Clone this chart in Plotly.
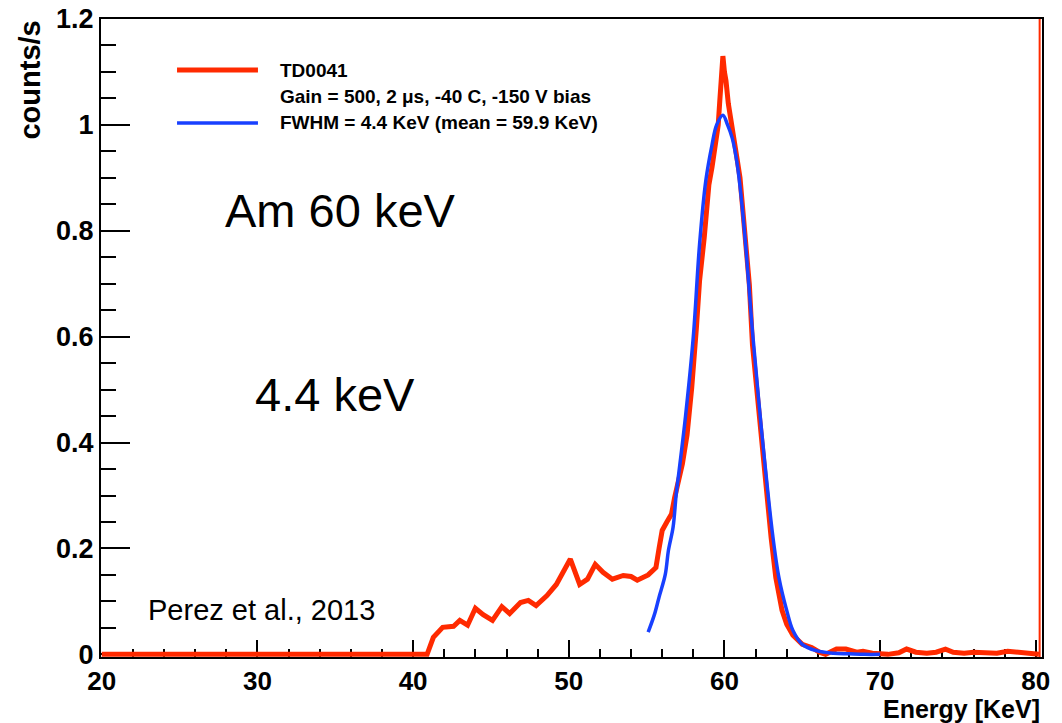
import plotly.graph_objects as go

# ---- data ----
red_energy = [20.0, 40.9, 41.3, 41.9, 42.6, 43.0, 43.5, 44.0, 44.5, 45.1, 45.7, 46.2, 46.9, 47.4,
              47.9, 48.6, 49.2, 49.7, 50.1, 50.7, 51.2, 51.7, 52.2, 52.8, 53.5, 54.0, 54.4, 55.1,
              55.6, 55.8, 56.0, 56.3, 56.6, 56.8, 57.1, 57.3, 57.6, 57.9, 58.2, 58.4, 58.7, 59.0,
              59.2, 59.4, 59.6, 59.7, 59.8, 59.9, 60.0, 60.1, 60.25, 60.45, 60.6, 60.8, 61.0, 61.2,
              61.4, 61.6, 61.8, 62.1, 62.4, 62.7, 62.9, 63.0, 63.3, 63.5, 63.7, 64.0, 64.4, 65.0,
              65.6, 66.1, 66.5, 67.2, 67.8, 68.5, 68.9, 69.5, 70.5, 71.2, 71.7, 72.3, 73.0, 73.6,
              74.2, 74.7, 75.4, 76.0, 76.8, 77.5, 78.2, 79.0, 79.6, 80.2]
red_counts = [0.0, 0.0, 0.032, 0.051, 0.053, 0.064, 0.055, 0.087, 0.075, 0.064, 0.090, 0.077, 0.098, 0.102,
              0.092, 0.111, 0.132, 0.158, 0.180, 0.132, 0.142, 0.170, 0.155, 0.142, 0.149, 0.147, 0.140, 0.150,
              0.164, 0.200, 0.234, 0.250, 0.265, 0.296, 0.334, 0.360, 0.415, 0.504, 0.617, 0.705, 0.787, 0.887,
              0.920, 0.957, 1.000, 1.045, 1.083, 1.130, 1.100, 1.083, 1.040, 1.000, 0.962, 0.938, 0.900, 0.830,
              0.755, 0.698, 0.585, 0.490, 0.396, 0.302, 0.240, 0.220, 0.145, 0.113, 0.083, 0.057, 0.036, 0.019,
              0.013, 0.004, 0.000, 0.010, 0.010, 0.004, 0.006, 0.002, 0.000, 0.003, 0.010, 0.004, 0.002, 0.004,
              0.010, 0.004, 0.002, 0.004, 0.003, 0.002, 0.006, 0.003, 0.003, 0.000]

fit_energy = [55.1, 55.5, 55.8, 56.2, 56.4, 56.7, 56.9, 57.1, 57.5, 58.0, 58.4, 58.8, 59.2, 59.5,
              59.9, 60.2, 60.5, 60.8, 61.1, 61.4, 61.8, 62.2, 62.6, 63.1, 63.5, 64.0, 64.4, 65.0,
              65.9, 67.0, 68.0, 69.0, 70.0]
fit_counts = [0.042, 0.075, 0.108, 0.151, 0.196, 0.240, 0.302, 0.350, 0.450, 0.600, 0.774, 0.894, 0.962, 1.000,
              1.018, 1.000, 0.975, 0.930, 0.857, 0.760, 0.610, 0.480, 0.360, 0.225, 0.145, 0.083, 0.045, 0.019,
              0.007, 0.002, 0.001, 0.000, 0.000]

x_ticks = [20, 30, 40, 50, 60, 70, 80]
y_ticks = [0, 0.2, 0.4, 0.6, 0.8, 1.0, 1.2]
y_tick_text = ["0", "0.2", "0.4", "0.6", "0.8", "1", "1.2"]

legend_lines = ["TD0041", "Gain = 500, 2 μs, -40 C, -150 V bias", "FWHM = 4.4 KeV (mean = 59.9 KeV)"]

RED = "#ff2a00"
BLUE = "#1840ff"
FONT = "Liberation Sans, Arial, Helvetica, sans-serif"

fig = go.Figure()
fig.add_trace(go.Scatter(x=red_energy, y=red_counts, mode="lines",
                         line=dict(color=RED, width=5), name=legend_lines[0], showlegend=False))
fig.add_trace(go.Scatter(x=fit_energy, y=fit_counts, mode="lines",
                         line=dict(color=BLUE, width=3.5, shape="spline"), name=legend_lines[2],
                         showlegend=False))

axis_common = dict(showline=True, linecolor="black", linewidth=2, mirror=True,
                   ticks="inside", tickcolor="black", tickwidth=2, showgrid=False, zeroline=False,
                   layer="below traces", automargin=False)

fig.update_xaxes(range=[19.95, 80.4], tickvals=x_ticks, ticklen=17,
                 tickfont=dict(family=FONT, size=26, color="black", weight="bold"),
                 minor=dict(dtick=2, tick0=20, ticks="inside", ticklen=8, tickcolor="black", tickwidth=2),
                 **axis_common)
fig.update_yaxes(range=[-0.005, 1.2], tickvals=y_ticks, ticktext=y_tick_text, ticklen=29,
                 tickfont=dict(family=FONT, size=27, color="black", weight="bold"),
                 minor=dict(dtick=0.05, tick0=0, ticks="inside", ticklen=15, tickcolor="black", tickwidth=2),
                 **axis_common)

shapes = [
    # legend sample lines
    dict(type="line", xref="paper", yref="paper", x0=0.0808, x1=0.1668, y0=0.920, y1=0.920,
         line=dict(color=RED, width=5)),
    dict(type="line", xref="paper", yref="paper", x0=0.0808, x1=0.1668, y0=0.837, y1=0.837,
         line=dict(color=BLUE, width=3.5)),
    # red edge along the right frame
    dict(type="line", xref="paper", yref="paper", x0=0.9975, x1=0.9975, y0=0, y1=1,
         line=dict(color=RED, width=2)),
]

leg_font = dict(family=FONT, size=19, color="black", weight="bold")
annotations = [
    dict(text=legend_lines[0], xref="paper", yref="paper", x=0.188, y=0.920, xanchor="left",
         yanchor="middle", showarrow=False, font=leg_font),
    dict(text=legend_lines[1], xref="paper", yref="paper", x=0.188, y=0.878, xanchor="left",
         yanchor="middle", showarrow=False, font=leg_font),
    dict(text=legend_lines[2], xref="paper", yref="paper", x=0.188, y=0.837, xanchor="left",
         yanchor="middle", showarrow=False, font=leg_font),
    dict(text="Am 60 keV", xref="paper", yref="paper", x=0.254, y=0.7006, xanchor="center",
         yanchor="middle", showarrow=False, font=dict(family=FONT, size=47, color="black")),
    dict(text="4.4 keV", xref="paper", yref="paper", x=0.2487, y=0.4107, xanchor="center",
         yanchor="middle", showarrow=False, font=dict(family=FONT, size=47, color="black")),
    dict(text="Perez et al., 2013", xref="paper", yref="paper", x=0.171, y=0.0737, xanchor="center",
         yanchor="middle", showarrow=False, font=dict(family=FONT, size=29, color="black")),
    dict(text="counts/s", xref="paper", yref="paper", x=-0.0765, y=1.0, xanchor="center",
         yanchor="top", textangle=-90, showarrow=False,
         font=dict(family=FONT, size=29, color="black", weight="bold")),
    dict(text="Energy [KeV]", xref="paper", yref="paper", x=1.0, y=-0.0815, xanchor="right",
         yanchor="middle", showarrow=False,
         font=dict(family=FONT, size=25, color="black", weight="bold")),
]

fig.update_layout(width=1062, height=723, margin=dict(l=101, r=20, t=19, b=66, autoexpand=False),
                  paper_bgcolor="white", plot_bgcolor="white",
                  shapes=shapes, annotations=annotations, showlegend=False)

fig.write_html("out.html", config={"displayModeBar": False},
               post_script="document.body.style.margin='0';")
